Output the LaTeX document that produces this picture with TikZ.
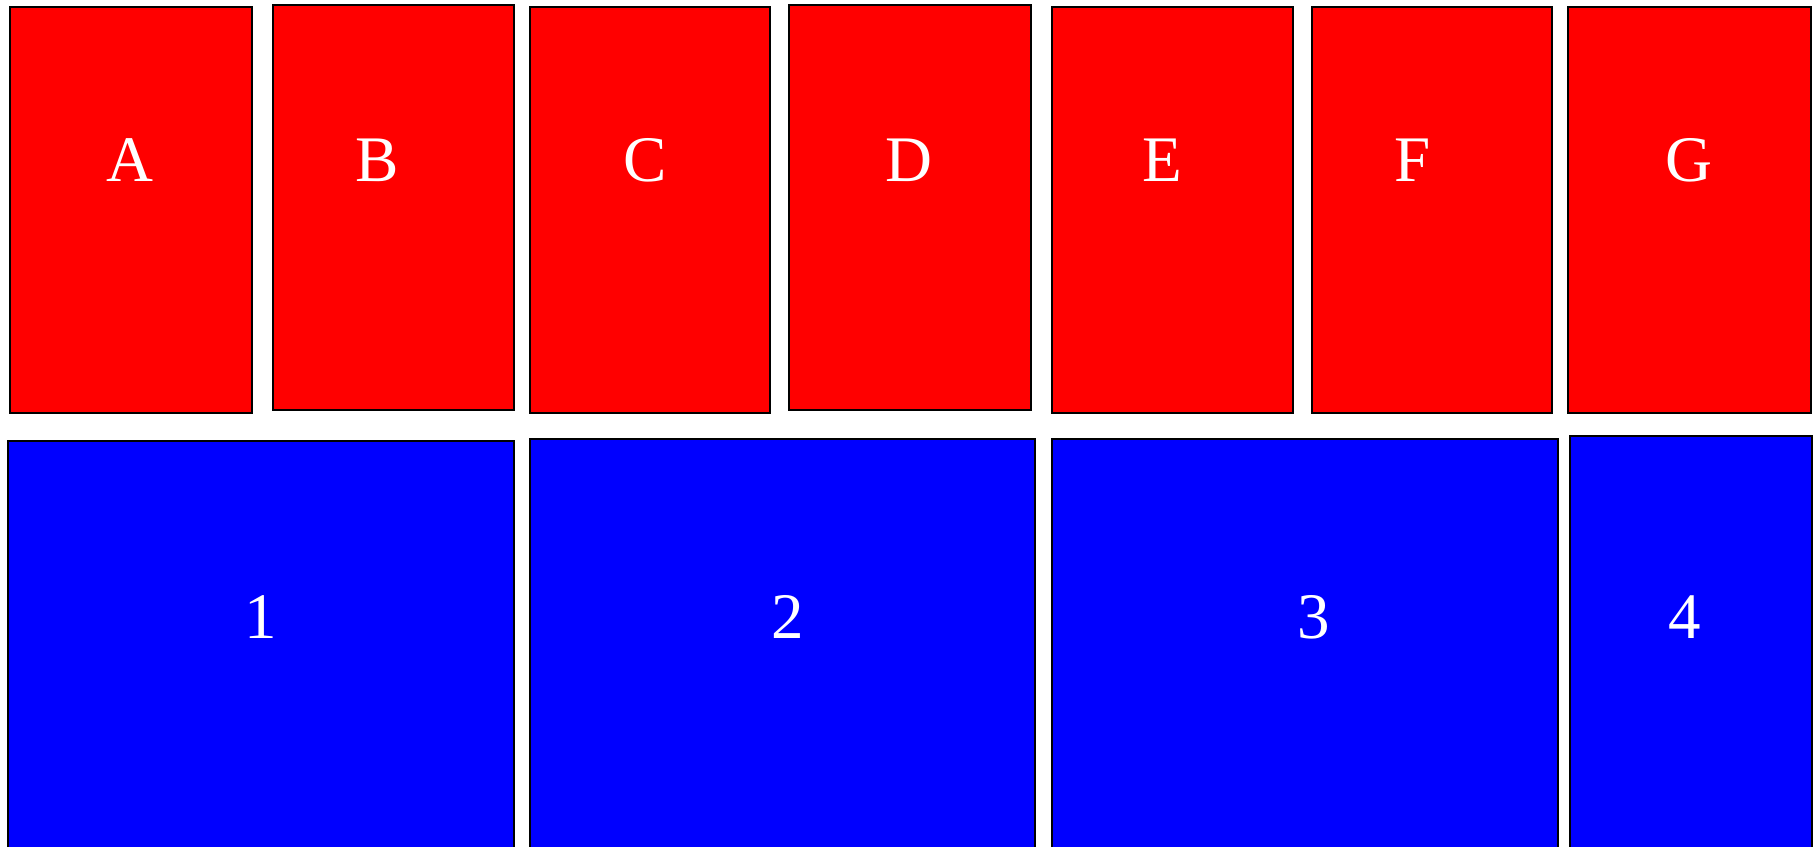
\documentclass[tikz,border=0pt]{standalone}
\usepackage{fontspec}
\setmainfont{Liberation Serif}
\begin{document}
\begin{tikzpicture}[x=1pt, y=-1pt,
    cell/.style={draw=black, line width=1.5pt, anchor=north west, inner sep=0pt, outer sep=0pt},
    redcell/.style={cell, fill=red, minimum height=406pt},
    bluecell/.style={cell, fill=blue, minimum height=430pt},
    celltext/.style={text=white, font=\fontsize{65}{70}\selectfont, anchor=base, inner sep=0pt}]
    \useasboundingbox (0,0) rectangle (1820,846);
    \clip (0,0) rectangle (1820,846);
    % Top row
    \node[redcell, minimum width=242pt] (cellA) at (10,7) {};
    \node[redcell, minimum width=241pt, minimum height=405pt] (cellB) at (273,5) {};
    \node[redcell, minimum width=240pt] (cellC) at (530,7) {};
    \node[redcell, minimum width=242pt, minimum height=405pt] (cellD) at (789,5) {};
    \node[redcell, minimum width=241pt] (cellE) at (1052,7) {};
    \node[redcell, minimum width=240pt] (cellF) at (1312,7) {};
    \node[redcell, minimum width=243pt] (cellG) at (1568,7) {};
    \node[celltext] (textA) at (130,181) {A};
    \node[celltext] (textB) at (377.5,181) {B};
    \node[celltext] (textC) at (645,181) {C};
    \node[celltext] (textD) at (909,181) {D};
    \node[celltext] (textE) at (1162.5,181) {E};
    \node[celltext] (textF) at (1413,181) {F};
    \node[celltext] (textG) at (1689,181) {G};
    % Bottom row
    \node[bluecell, minimum width=506pt] (cellOne) at (8,441) {};
    \node[bluecell, minimum width=505pt] (cellTwo) at (530,439) {};
    \node[bluecell, minimum width=506pt] (cellThree) at (1052,439) {};
    \node[bluecell, minimum width=242pt] (cellFour) at (1570,436) {};
    \node[celltext] (textOne) at (261,638) {1};
    \node[celltext] (textTwo) at (787.5,638) {2};
    \node[celltext] (textThree) at (1313.5,638) {3};
    \node[celltext] (textFour) at (1684.5,638) {4};
\end{tikzpicture}
\end{document}
